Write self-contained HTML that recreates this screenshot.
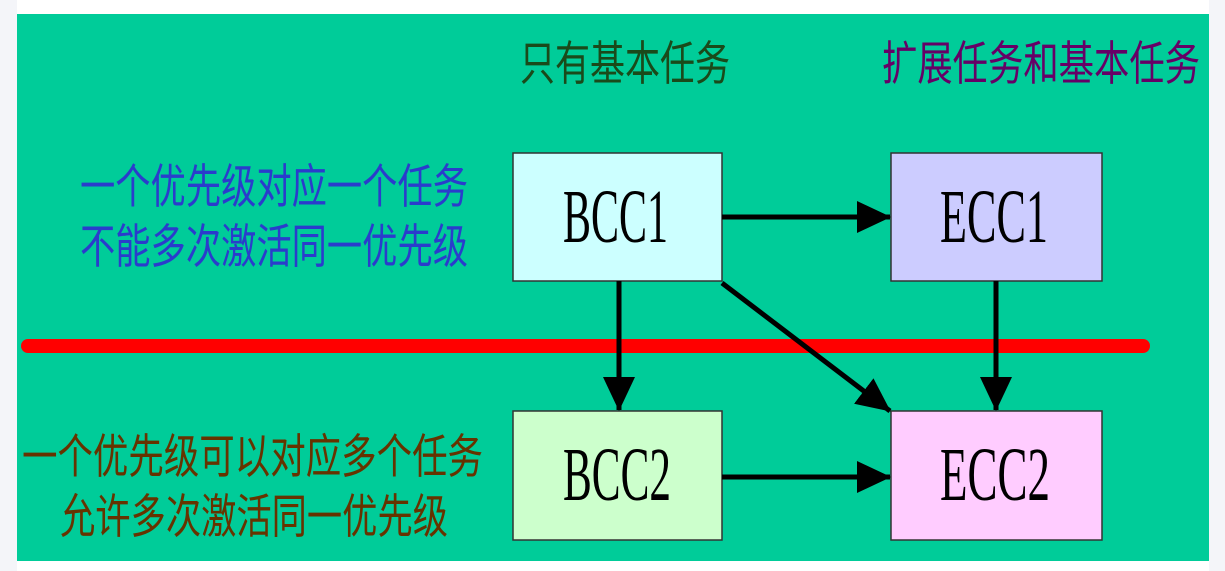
<!DOCTYPE html>
<html><head><meta charset="utf-8"><style>
html,body{margin:0;padding:0;background:#fff;width:1225px;height:571px;overflow:hidden}
</style></head><body>
<svg width="1225" height="571" xmlns="http://www.w3.org/2000/svg">
<defs>
<marker id="a" markerWidth="34" markerHeight="32" refX="33" refY="16" orient="auto" markerUnits="userSpaceOnUse">
<path d="M0,0 L34,16 L0,32 Z" fill="#000"/>
</marker>
</defs>
<rect x="0" y="0" width="17" height="571" fill="#f4f5f9"/>
<rect x="1209" y="0" width="16" height="571" fill="#f4f5f9"/>
<rect x="17" y="14" width="1192" height="547" fill="#00cc99"/>
<g font-family="'Liberation Sans','Noto Sans CJK SC',sans-serif" font-size="47">
<text x="520" y="80" fill="#1a4a1a" textLength="210" lengthAdjust="spacingAndGlyphs">只有基本任务</text>
<text x="882" y="80" fill="#660066" textLength="318" lengthAdjust="spacingAndGlyphs">扩展任务和基本任务</text>
<text x="80" y="203" fill="#2a3ccc" textLength="388" lengthAdjust="spacingAndGlyphs">一个优先级对应一个任务</text>
<text x="80" y="263" fill="#2a3ccc" textLength="388" lengthAdjust="spacingAndGlyphs">不能多次激活同一优先级</text>
<text x="22" y="473" fill="#663300" textLength="461" lengthAdjust="spacingAndGlyphs">一个优先级可以对应多个任务</text>
<text x="60" y="533" fill="#663300" textLength="388" lengthAdjust="spacingAndGlyphs">允许多次激活同一优先级</text>
</g>
<g stroke="#333" stroke-width="1.5">
<rect x="513" y="153" width="209" height="128" fill="#ccffff"/>
<rect x="891" y="153" width="211" height="128" fill="#ccccff"/>
<rect x="513" y="411" width="209" height="129" fill="#ccffcc"/>
<rect x="891" y="411" width="211" height="129" fill="#ffccff"/>
</g>
<g font-family="'Liberation Serif',serif" font-size="76" fill="#000">
<text x="563" y="242" textLength="105" lengthAdjust="spacingAndGlyphs">BCC1</text>
<text x="940" y="242" textLength="108" lengthAdjust="spacingAndGlyphs">ECC1</text>
<text x="563" y="500" textLength="108" lengthAdjust="spacingAndGlyphs">BCC2</text>
<text x="940" y="500" textLength="110" lengthAdjust="spacingAndGlyphs">ECC2</text>
</g>
<line x1="28" y1="346" x2="1143" y2="346" stroke="#ff0000" stroke-width="14" stroke-linecap="round"/>
<g stroke="#000" stroke-width="5" marker-end="url(#a)">
<line x1="722" y1="217" x2="890" y2="217"/>
<line x1="619" y1="281" x2="619" y2="410"/>
<line x1="722" y1="283" x2="890" y2="411"/>
<line x1="996" y1="281" x2="996" y2="410"/>
<line x1="722" y1="477" x2="890" y2="477"/>
</g>
</svg>
</body></html>
